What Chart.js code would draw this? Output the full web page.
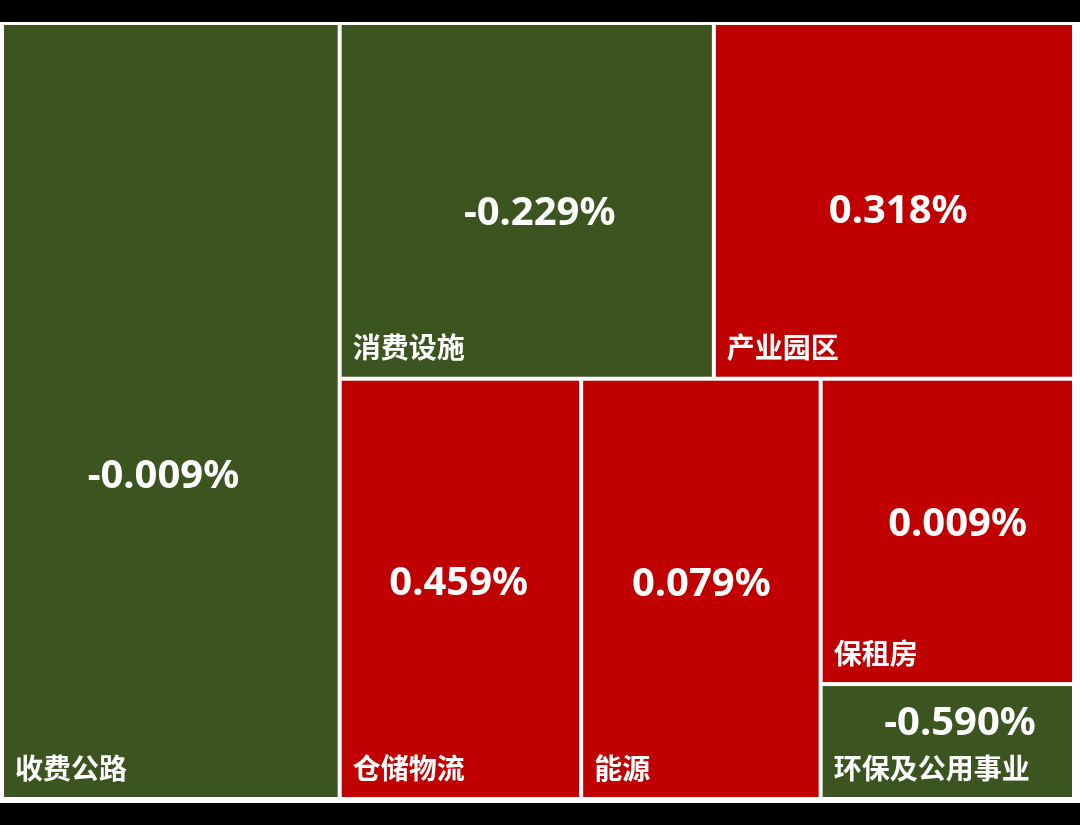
<!DOCTYPE html>
<html>
<head>
<meta charset="utf-8">
<script src="https://cdn.jsdelivr.net/npm/chart.js@4/dist/chart.umd.min.js"></script>
<style>
  html, body { margin: 0; padding: 0; background: #000; }
  #wrap { width: 1080px; height: 825px; }
</style>
</head>
<body>
<div id="wrap"><canvas id="treemap"></canvas></div>
<script>
// sectors, relative size (share of total) and daily change in %
const sectors = ["收费公路", "消费设施", "产业园区", "仓储物流", "能源", "保租房", "环保及公用事业"];
const weights = [31.5, 16.0, 15.4, 12.2, 12.1, 9.3, 3.5];
const changes = [-0.009, -0.229, 0.318, 0.459, 0.079, 0.009, -0.590];

// how the tiles are nested: h = side by side, v = stacked
const layoutTree = { dir: "h", items: [0, { dir: "v", items: [
    { dir: "h", items: [1, 2] },
    { dir: "h", items: [3, 4, { dir: "v", items: [5, 6] }] }
]}]};

// where the value text sits inside each tile (fraction of width / height)
const valueAnchor = [[0.478, 0.585], [0.535, 0.537], [0.512, 0.531], [0.493, 0.488], [0.502, 0.49], [0.541, 0.477], [0.551, 0.339]];

const UP = "#c00000";
const DOWN = "#3b5420";

function sumOf(node) {
    if (typeof node === "number") return weights[node];
    return node.items.reduce((s, n) => s + sumOf(n), 0);
}

// slice-and-dice into the unit square, areas stay proportional to weights
function layout(node, x0, y0, x1, y1, out) {
    if (typeof node === "number") {
        out.push({ i: node, x0, y0, x1, y1 });
        return out;
    }
    const total = sumOf(node);
    let pos = node.dir === "h" ? x0 : y0;
    node.items.forEach(n => {
        const f = sumOf(n) / total;
        if (node.dir === "h") {
            const w = (x1 - x0) * f;
            layout(n, pos, y0, pos + w, y1, out);
            pos += w;
        } else {
            const h = (y1 - y0) * f;
            layout(n, x0, pos, x1, pos + h, out);
            pos += h;
        }
    });
    return out;
}

const tiles = layout(layoutTree, 0, 0, 1, 1, []);

const treemapPlugin = {
    id: "treemap",
    beforeDraw(chart) {
        const ctx = chart.ctx;
        ctx.save();
        ctx.fillStyle = "#000";
        ctx.fillRect(0, 0, chart.width, chart.height);
        ctx.fillStyle = "#ffffff";
        ctx.fillRect(0, 22, chart.width, 781);
        ctx.restore();
    },
    afterDatasetsDraw(chart) {
        const ctx = chart.ctx;
        const xs = chart.scales.x, ys = chart.scales.y;
        const gap = 2;
        ctx.save();
        tiles.forEach(t => {
            const left = xs.getPixelForValue(t.x0) + gap;
            const right = xs.getPixelForValue(t.x1) - gap;
            const top = ys.getPixelForValue(t.y0) + gap;
            const bottom = ys.getPixelForValue(t.y1) - gap;
            const v = changes[t.i];
            ctx.fillStyle = v >= 0 ? UP : DOWN;
            ctx.fillRect(left, top, right - left, bottom - top);

            ctx.fillStyle = "#ffffff";
            ctx.font = "bold 40px 'Noto Sans', 'Noto Sans CJK SC', sans-serif";
            ctx.textAlign = "center";
            ctx.textBaseline = "middle";
            const a = valueAnchor[t.i];
            ctx.fillText(v.toFixed(3) + "%", left + (right - left) * a[0], top + (bottom - top) * a[1]);

            ctx.font = "bold 28px 'Noto Sans CJK SC', sans-serif";
            ctx.textAlign = "left";
            ctx.fillText(sectors[t.i], left + 11, bottom - 29);
        });
        ctx.restore();
    }
};

new Chart(document.getElementById("treemap"), {
    type: "scatter",
    data: { datasets: [] },
    options: {
        responsive: true,
        maintainAspectRatio: false,
        animation: false,
        layout: { padding: { left: 2, right: 6, top: 23, bottom: 26 } },
        plugins: { legend: { display: false }, tooltip: { enabled: false } },
        scales: {
            x: { type: "linear", min: 0, max: 1, display: false },
            y: { type: "linear", min: 0, max: 1, reverse: true, display: false }
        }
    },
    plugins: [treemapPlugin]
});
</script>
</body>
</html>
